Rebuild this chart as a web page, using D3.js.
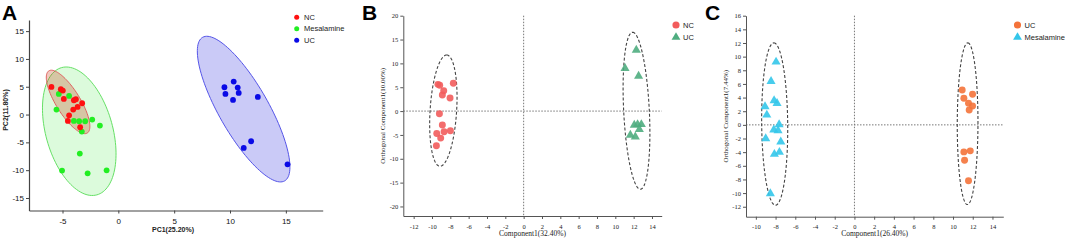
<!DOCTYPE html>
<html>
<head>
<meta charset="utf-8">
<script src="https://cdn.jsdelivr.net/npm/d3@7"></script>
<style>
  body { margin: 0; background: #fff; }
  svg { display: block; }
</style>
</head>
<body>
<svg id="chart" width="1065" height="240"></svg>
<script>
// ---- Panel A: PCA scores ----
const pcaNC = [[-5.99, 4.97], [-5.15, 4.55], [-4.97, 4.31], [-4.88, 2.81], [-3.98, 2.57], [-3.8, 2.75],
  [-3.24, 2.03], [-3.65, 1.37], [-4.04, 0.9], [-4.41, -0.13], [-4.52, -1.15], [-3.42, -2.28]];
const pcaMesalamine = [[-5.33, 3.71], [-4.41, 3.35], [-5.54, 0.9], [-3.98, -1.15], [-3.51, -1.2], [-2.97, -1.2],
  [-3.27, -3.06], [-2.34, -0.9], [-1.65, -1.98], [-3.45, -7.02], [-5.04, -10.08], [-2.75, -10.56], [-1.05, -10.02]];
const pcaUC = [[10.33, 5.93], [9.5, 4.91], [10.69, 4.85], [9.59, 3.71], [10.78, 3.89], [10.27, 2.63],
  [12.49, 3.17], [11.89, -4.8], [11.23, -6.0], [15.15, -8.94]];
const pcaXTicks = [-5, 0, 5, 10, 15];
const pcaYTicks = [-15, -10, -5, 0, 5, 10, 15];
// confidence ellipses: centre and two semi-axis vectors, in data units
const pcaEllMesalamine = { c: [-3.5, -3.0], a: [1.58, -11.44], b: [-2.89, -1.6] };
const pcaEllNC = { c: [-4.5, 2.27], a: [1.72, -5.59], b: [-0.92, -1.14] };
const pcaEllUC = { c: [11.22, 0.98], a: [3.67, -12.91], b: [-1.93, -2.19] };

// ---- Panel B: OPLS-DA NC vs UC ----
const oplsB_NC = [[-9.35, 5.6], [-9.16, 5.4], [-7.67, 5.82], [-8.72, 4.27], [-8.87, 3.36], [-8.03, 2.73],
  [-9.19, -0.56], [-8.87, -2.94], [-8.68, -4.34], [-7.99, -4.13], [-9.48, -4.69], [-9.05, -5.67], [-9.52, -7.28]];
const oplsB_UC = [[12.29, 12.8], [11.06, 8.96], [12.54, 7.35], [12.07, -2.94], [12.43, -2.8], [12.84, -2.8],
  [12.62, -3.85], [11.64, -5.04], [12.18, -5.39]];
const oplsBXTicks = [-12, -10, -8, -6, -4, -2, 0, 2, 4, 6, 8, 10, 12, 14];
const oplsBYTicks = [-20, -15, -10, -5, 0, 5, 10, 15, 20];
const oplsBEllNC = { c: [-8.76, 0.1], a: [0.36, 11.66], b: [1.45, 0] };
const oplsBEllUC = { c: [12.31, 0.07], a: [-0.42, 16.46], b: [1.4, 0] };

// ---- Panel C: OPLS-DA UC vs Mesalamine ----
const oplsC_UC = [[10.93, 5.12], [11.98, 4.48], [11.1, 3.9], [11.57, 3.17], [11.98, 2.78], [11.64, 2.19],
  [11.1, -3.96], [11.75, -3.81], [11.17, -5.18], [11.57, -8.2]];
const oplsC_Mes = [[-7.95, 9.22], [-8.46, 6.38], [-8.15, 3.56], [-7.85, 3.16], [-9.07, 2.68], [-8.89, 1.46],
  [-7.64, 0.04], [-8.18, -0.73], [-7.75, -0.83], [-9.0, -2.0], [-7.47, -2.49], [-7.61, -4.01], [-8.12, -4.3], [-8.53, -10.06]];
const oplsCXTicks = [-10, -8, -6, -4, -2, 0, 2, 4, 6, 8, 10, 12, 14];
const oplsCYTicks = [-12, -10, -8, -6, -4, -2, 0, 2, 4, 6, 8, 10, 12, 14, 16];
const oplsCEllMes = { c: [-8.09, 0.12], a: [-0.08, 11.9], b: [1.32, 0] };
const oplsCEllUC = { c: [11.48, 0.17], a: [0.02, 11.85], b: [1.05, 0] };

const svg = d3.select('#chart');
const sans = 'Liberation Sans, Arial, sans-serif';
const serif = 'Liberation Serif, Times New Roman, serif';

function ellipsePath(e, x, y) {
    const pts = d3.range(0, 121).map(i => {
        const t = i / 120 * 2 * Math.PI;
        return [e.c[0] + Math.cos(t) * e.a[0] + Math.sin(t) * e.b[0],
                e.c[1] + Math.cos(t) * e.a[1] + Math.sin(t) * e.b[1]];
    });
    return d3.line().x(d => x(d[0])).y(d => y(d[1])).curve(d3.curveLinearClosed)(pts);
}

function drawAxes(g, x, y, xTicks, yTicks, opt) {
    const fmt = d => String(d);
    const xa = g.append('g')
        .attr('transform', `translate(0,${y.range()[0]})`)
        .call(d3.axisBottom(x).tickValues(xTicks).tickFormat(fmt).tickSize(opt.tick).tickSizeOuter(0));
    const ya = g.append('g')
        .attr('transform', `translate(${x.range()[0]},0)`)
        .call(d3.axisLeft(y).tickValues(yTicks).tickFormat(fmt).tickSize(opt.tick).tickSizeOuter(0));
    [xa, ya].forEach(a => {
        a.select('.domain').attr('stroke', opt.axisColor).attr('stroke-width', opt.axisWidth);
        a.selectAll('.tick line').attr('stroke', opt.axisColor);
        a.selectAll('.tick text')
            .attr('font-family', opt.font)
            .attr('font-size', opt.tickSize)
            .attr('font-weight', opt.tickWeight || 'normal')
            .attr('fill', opt.tickColor || '#222');
    });
    xa.selectAll('.tick text').attr('dy', opt.xDy);
    ya.selectAll('.tick text').attr('x', -opt.tick - 2);
}

function panelLetter(x, text) {
    svg.append('text')
        .attr('x', x).attr('y', 20)
        .attr('font-family', sans).attr('font-weight', 'bold').attr('font-size', 21)
        .text(text);
}

// ---------------- Panel A ----------------
(function () {
    const g = svg.append('g');
    const x = d3.scaleLinear().domain([-8, 18.3]).range([29, 322.7]);
    const y = d3.scaleLinear().domain([-17.25, 17]).range([210.5, 20]);

    const ells = [
        { e: pcaEllMesalamine, fill: 'rgba(40,230,40,0.16)', stroke: '#66e066' },
        { e: pcaEllNC, fill: 'rgba(200,60,20,0.28)', stroke: '#e06060' },
        { e: pcaEllUC, fill: 'rgba(60,60,225,0.27)', stroke: '#5555e8' }
    ];
    ells.forEach(d => {
        g.append('path')
            .attr('d', ellipsePath(d.e, x, y))
            .attr('fill', d.fill)
            .attr('stroke', d.stroke)
            .attr('stroke-width', 1);
    });

    const groups = [
        { data: pcaMesalamine, color: '#22ee22' },
        { data: pcaNC, color: '#ff1010' },
        { data: pcaUC, color: '#0a0ae6' }
    ];
    groups.forEach(grp => {
        g.selectAll(null).data(grp.data).enter().append('circle')
            .attr('cx', d => x(d[0])).attr('cy', d => y(d[1]))
            .attr('r', 2.9).attr('fill', grp.color);
    });

    drawAxes(g, x, y, pcaXTicks, pcaYTicks,
        { tick: 3, axisColor: '#444', axisWidth: 1.2, font: sans, tickSize: 8, tickColor: '#111', xDy: '0.95em' });

    g.append('text')
        .attr('x', 173).attr('y', 232)
        .attr('text-anchor', 'middle')
        .attr('font-family', sans).attr('font-size', 7).attr('font-weight', 'bold').attr('fill', '#222')
        .text('PC1(25.20%)');
    g.append('text')
        .attr('transform', 'translate(8,110) rotate(-90)')
        .attr('text-anchor', 'middle')
        .attr('font-family', sans).attr('font-size', 7).attr('font-weight', 'bold').attr('fill', '#222')
        .text('PC2(11.80%)');

    const legend = [
        { label: 'NC', color: '#ff1010' },
        { label: 'Mesalamine', color: '#22ee22' },
        { label: 'UC', color: '#0a0ae6' }
    ];
    legend.forEach((d, i) => {
        g.append('circle').attr('cx', 296.7).attr('cy', 17.3 + i * 11.5).attr('r', 2.5).attr('fill', d.color);
        g.append('text')
            .attr('x', 304).attr('y', 17.3 + i * 11.5).attr('dy', '0.35em')
            .attr('font-family', sans).attr('font-size', 7.5).attr('fill', '#222')
            .text(d.label);
    });
    panelLetter(2, 'A');
})();

// ---------------- OPLS-DA panels ----------------
function drawOpls(cfg) {
    const g = svg.append('g');
    const x = d3.scaleLinear().domain(cfg.xDomain).range(cfg.xRange);
    const y = d3.scaleLinear().domain(cfg.yDomain).range(cfg.yRange);

    // reference lines through the origin
    g.append('line')
        .attr('x1', cfg.xRange[0]).attr('x2', cfg.xRange[1])
        .attr('y1', y(0)).attr('y2', y(0))
        .attr('stroke', '#777').attr('stroke-width', 1).attr('stroke-dasharray', '1.5,1.5');
    g.append('line')
        .attr('x1', x(0)).attr('x2', x(0))
        .attr('y1', cfg.yRange[1]).attr('y2', cfg.yRange[0])
        .attr('stroke', '#777').attr('stroke-width', 1).attr('stroke-dasharray', '1.5,1.5');

    cfg.ellipses.forEach(e => {
        g.append('path')
            .attr('d', ellipsePath(e, x, y))
            .attr('fill', 'none')
            .attr('stroke', '#444')
            .attr('stroke-width', 1.1)
            .attr('stroke-dasharray', '3,2');
    });

    cfg.groups.forEach(grp => {
        const sym = d3.symbol().type(grp.shape === 'tri' ? d3.symbolTriangle : d3.symbolCircle)
            .size(grp.shape === 'tri' ? 36 : 38);
        g.selectAll(null).data(grp.data).enter().append('path')
            .attr('d', sym)
            .attr('transform', d => `translate(${x(d[0])},${y(d[1])})`)
            .attr('fill', grp.color)
            .attr('fill-opacity', 0.9);
    });

    drawAxes(g, x, y, cfg.xTicks, cfg.yTicks,
        { tick: 3, axisColor: '#555', axisWidth: 1, font: serif, tickSize: 6.5, tickColor: '#222', xDy: '1.0em' });

    const midX = (cfg.xRange[0] + cfg.xRange[1]) / 2;
    const midY = (cfg.yRange[0] + cfg.yRange[1]) / 2;
    g.append('text')
        .attr('x', midX).attr('y', 236)
        .attr('text-anchor', 'middle')
        .attr('font-family', serif).attr('font-size', 7.5).attr('fill', '#222')
        .text(cfg.xLabel);
    g.append('text')
        .attr('transform', `translate(${cfg.yLabelX},${midY}) rotate(-90)`)
        .attr('text-anchor', 'middle')
        .attr('font-family', serif).attr('font-size', 7).attr('fill', '#222')
        .text(cfg.yLabel);

    cfg.legend.forEach((d, i) => {
        const sym = d3.symbol().type(d.shape === 'tri' ? d3.symbolTriangle : d3.symbolCircle)
            .size(d.shape === 'tri' ? 34 : 40);
        g.append('path')
            .attr('d', sym)
            .attr('transform', `translate(${cfg.legendX},${25 + i * 12.3})`)
            .attr('fill', d.color);
        g.append('text')
            .attr('x', cfg.legendX + 7).attr('y', 25 + i * 12.3).attr('dy', '0.35em')
            .attr('font-family', sans).attr('font-size', 7.5).attr('fill', '#222')
            .text(d.label);
    });
    panelLetter(cfg.letterX, cfg.letter);
}

drawOpls({
    letter: 'B', letterX: 362,
    xDomain: [-13.13, 15.06], xRange: [403.3, 661.7],
    yDomain: [-22, 20], yRange: [216, 15.7],
    xTicks: oplsBXTicks, yTicks: oplsBYTicks,
    xLabel: 'Component1(32.40%)', yLabel: 'Orthogonal Component1(10.00%)', yLabelX: 385,
    ellipses: [oplsBEllNC, oplsBEllUC],
    groups: [
        { data: oplsB_NC, color: '#f25c5c', shape: 'circle' },
        { data: oplsB_UC, color: '#4fad80', shape: 'tri' }
    ],
    legendX: 676,
    legend: [
        { label: 'NC', color: '#f25c5c', shape: 'circle' },
        { label: 'UC', color: '#4fad80', shape: 'tri' }
    ]
});

drawOpls({
    letter: 'C', letterX: 705,
    xDomain: [-11.0, 15.1], xRange: [746, 1003.3],
    yDomain: [-13.46, 16], yRange: [216.7, 15.7],
    xTicks: oplsCXTicks, yTicks: oplsCYTicks,
    xLabel: 'Component1(26.40%)', yLabel: 'Orthogonal Component1(7.44%)', yLabelX: 728,
    ellipses: [oplsCEllMes, oplsCEllUC],
    groups: [
        { data: oplsC_Mes, color: '#33c6ea', shape: 'tri' },
        { data: oplsC_UC, color: '#f4733a', shape: 'circle' }
    ],
    legendX: 1017.5,
    legend: [
        { label: 'UC', color: '#f4733a', shape: 'circle' },
        { label: 'Mesalamine', color: '#33c6ea', shape: 'tri' }
    ]
});
</script>
</body>
</html>
